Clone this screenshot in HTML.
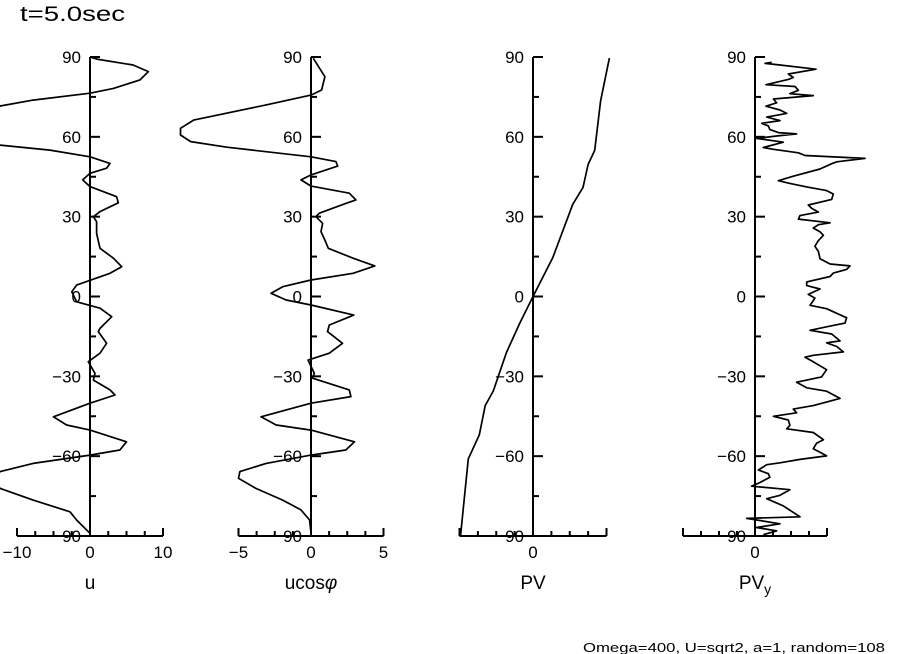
<!DOCTYPE html>
<html><head><meta charset="utf-8">
<style>
html,body{margin:0;padding:0;background:#fff;}
svg{display:block;font-family:"Liberation Sans","DejaVu Sans",sans-serif;}
</style></head>
<body>
<svg id="chart" width="904" height="654" viewBox="0 0 904 654" xmlns="http://www.w3.org/2000/svg">
<text x="20" y="21" font-size="21" textLength="105" lengthAdjust="spacingAndGlyphs">t=5.0sec</text>
<text x="583" y="652" font-size="13" textLength="302" lengthAdjust="spacingAndGlyphs">Omega=400, U=sqrt2, a=1, random=108</text>
</svg>
<script>
// Latitude tick values
const latTicks = [90, 60, 30, 0, -30, -60, -90];
// u profile
const uLat = [90,89.1,87,84.5,81.4,78.2,76.4,73.8,71.6,68,62,58.5,56.9,55,52.5,50,48.2,46.3,43.8,41.3,37.5,35.2,31.9,30,28.1,23.7,18.1,14.4,11.2,8.7,4.3,1.8,-2,-4.4,-7.6,-12,-13.2,-17.6,-21.3,-24.5,-28.9,-31.4,-35.1,-37,-40.1,-45.2,-48.3,-50.2,-54.6,-57.7,-59.6,-62.7,-65.8,-69,-72.1,-76.5,-80.9,-84,-89];
const uVal = [0,1.14,5.9,8.0,6.85,3.2,0,-7.8,-12.3,-16.5,-19,-16,-12.3,-5.5,0,2.74,2.28,0,-1.0,0,3.65,3.88,1.37,0.46,0.91,0.91,1.37,3.2,4.34,2.74,-1.83,-2.5,-1.83,1.37,2.97,1.37,1.14,2.28,1.37,-0.23,0.68,0.46,2.74,3.42,0,-5.0,-3.2,0,5.0,4.1,0,-7.8,-12.3,-13.5,-12.3,-7.8,-2.74,-1.83,0];
// u cos(phi) profile
const ucLat = [89.5,82.6,77.6,75.7,72,66.3,63.2,60.7,58.2,56.1,52.5,50.7,49,45.7,43.8,41.5,38.8,36.3,35,31.3,30,27.5,24.4,21.2,18.1,14.4,11.5,8.7,6.2,3.7,1.2,-1.3,-3.2,-7,-10.7,-13.2,-17.6,-21.3,-23.9,-28.9,-30.7,-35.1,-37.6,-40.1,-45.2,-48.3,-50.2,-54.6,-57.7,-59.6,-62.7,-65.8,-68.3,-72.1,-76.5,-80.2,-84,-89];
const ucVal = [0.16,0.96,0.73,0,-3.1,-8.1,-9.0,-9.0,-8.3,-5.8,0,1.72,1.84,0,-0.69,0,2.64,3.1,2.4,0.57,0.34,0.8,0.69,0.96,1.19,2.9,4.4,2.9,0,-1.95,-2.75,-1.72,0,2.95,1.26,1.14,2.17,1.26,-0.2,0.23,0.11,2.64,2.75,0,-3.45,-2.4,0,3.0,2.4,0,-3.1,-4.9,-5.0,-3.8,-1.95,-0.69,-0.1,0];
// PV profile
const pvLat = [-90,-61,-52,-41,-35.5,-29,-21,-10,0,14.6,34.6,41,49.6,54.9,73.5,81.6,89.6];
const pvVal = [-0.986,-0.88,-0.73,-0.65,-0.54,-0.46,-0.36,-0.18,0,0.27,0.54,0.68,0.75,0.84,0.92,0.98,1.04];
// PV_y profile
const pvyLat = [88.0,87.6,87.0,85.4,83.6,82.3,81.6,79.6,78.9,77.5,76.2,75.5,74.2,72.8,71.5,70.1,68.8,67.4,66.1,65.1,64.1,62.7,61.6,61.1,60.3,59.4,58.0,56.0,55.3,54.0,53.0,51.9,50.6,49.9,47.9,45.2,43.5,42.5,41.2,39.8,38.5,36.5,34.4,33.1,31.7,30.4,29.1,27.7,27.0,25.7,24.3,23.0,21.0,18.9,16.9,14.2,12.2,11.5,10.2,8.8,7.5,5.5,4.1,2.8,0.8,-0.6,-3.3,-4.6,-8.0,-10.0,-11.4,-12.7,-14.1,-16.7,-17.4,-18.8,-20.8,-22.1,-22.8,-24.2,-27.5,-30.2,-32.2,-34.3,-35.6,-38.3,-41.0,-42.3,-43.7,-45.0,-46.4,-48.4,-49.7,-51.1,-53.8,-55.1,-57.2,-58.5,-59.9,-61.2,-62.5,-63.2,-65.2,-66.6,-67.9,-69.9,-71.3,-72.6,-74.7,-76.0,-78.7,-82.8,-83.4,-85.4,-86.8,-88.1,-89.5];
const pvyVal = [0.93,0.56,1.39,3.39,1.85,2.13,1.85,0.61,2.22,2.41,1.94,3.24,1.02,1.20,0.61,1.39,1.76,0.65,1.39,0.37,0.74,0.83,1.30,2.31,1.20,0.09,1.57,0.46,1.02,2.41,2.78,6.11,4.54,4.26,3.61,2.13,1.30,1.94,2.87,3.98,4.35,4.26,2.96,3.15,3.52,2.50,2.41,4.17,3.52,3.24,3.61,3.80,3.52,3.33,3.52,3.61,4.17,5.28,5.09,4.35,4.17,2.87,2.87,3.61,2.96,3.33,3.06,3.98,5.09,5.00,3.98,3.06,4.26,4.72,3.98,4.54,4.91,3.24,2.78,3.15,3.98,3.70,2.31,2.87,3.98,4.72,3.24,2.13,2.31,1.02,1.85,1.94,1.76,3.24,3.80,3.43,3.24,3.61,3.98,2.50,1.39,0.65,0.19,0.74,0.83,0.28,-0.19,1.94,1.39,0.65,1.57,2.50,-0.46,1.39,0.09,1.20,0.46];
// x tick labels per panel
const uTickVals = [-10, 0, 10];
const ucTickVals = [-5, 0, 5];
const pvTickVals = [0];
const pvyTickVals = [0];

const NS = "http://www.w3.org/2000/svg";
const svg = document.getElementById('chart');
const yTop = 57, yBot = 536;
function yScale(lat){ return yTop + (90 - lat) * (yBot - yTop) / 180; }
function mk(tag, attrs, parent){
  const e = document.createElementNS(NS, tag);
  for (const k in attrs) e.setAttribute(k, attrs[k]);
  (parent || svg).appendChild(e);
  return e;
}
function panel(name, axisX, halfPx, dom, step, tickVals, lats, vals, labelHtml){
  const g = mk('g', {});
  
  
  const xs = v => axisX + v * halfPx / dom;
  const ax = mk('line', {x1: axisX, y1: yTop, x2: axisX, y2: yBot, stroke: '#000', 'stroke-width': 2}, g);
  
  
  for (let lat = 90; lat >= -90; lat -= 15){
    const major = lat % 30 === 0;
    const t = mk('line', {x1: axisX, y1: yScale(lat), x2: axisX + (major ? 10 : 6), y2: yScale(lat), stroke: '#000', 'stroke-width': 2}, g);
    
    
  }
  latTicks.forEach(lat => {
    const tx = mk('text', {x: axisX - 9, y: yScale(lat) + 6, 'font-size': 17, 'text-anchor': 'end'}, g);
    tx.textContent = lat < 0 ? '\u2212' + (-lat) : String(lat);
    
    
  });
  const xa = mk('line', {x1: xs(-dom), y1: yBot, x2: xs(dom), y2: yBot, stroke: '#000', 'stroke-width': 2}, g);
  
  
  const n = Math.round(2 * dom / step);
  for (let i = 0; i <= n; i++){
    const v = -dom + i * step;
    const end = (i === 0 || i === n);
    const t = mk('line', {x1: xs(v), y1: yBot, x2: xs(v), y2: yBot - (end ? 8 : 5), stroke: '#000', 'stroke-width': 2}, g);
    
    
  }
  tickVals.forEach(v => {
    const tx = mk('text', {x: xs(v), y: yBot + 22, 'font-size': 17, 'text-anchor': 'middle'}, g);
    tx.textContent = v < 0 ? '\u2212' + (-v) : String(v);
    
    
  });
  const lab = mk('text', {x: axisX, y: 589, 'font-size': 19, 'text-anchor': 'middle'}, g);
  lab.innerHTML = labelHtml;
  
  
  const pts = lats.map((la, i) => xs(vals[i]).toFixed(1) + ',' + yScale(la).toFixed(1)).join(' ');
  const pl = mk('polyline', {points: pts, fill: 'none', stroke: '#000', 'stroke-width': 1.7, 'stroke-linejoin': 'round'}, g);
  
  
}
panel('u', 90, 73, 10, 2.5, uTickVals, uLat, uVal, 'u');
panel('ucos', 311, 72.5, 5, 1.25, ucTickVals, ucLat, ucVal, 'ucos<tspan font-style="italic">\u03c6</tspan>');
panel('pv', 533, 73.5, 1, 0.25, pvTickVals, pvLat, pvVal, 'PV');
panel('pvy', 755, 72, 4, 1, pvyTickVals, pvyLat, pvyVal, 'PV<tspan font-size="14" dy="5">y</tspan>');
</script>
</body></html>
